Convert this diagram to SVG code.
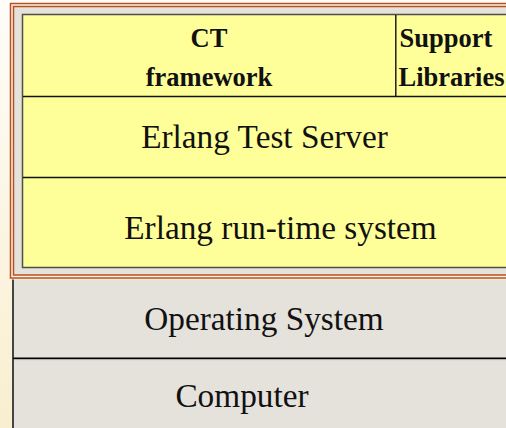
<svg xmlns="http://www.w3.org/2000/svg" width="506" height="428" viewBox="0 0 506 428">
  <defs>
    <linearGradient id="bg" x1="0" y1="0" x2="0" y2="1">
      <stop offset="0" stop-color="#fffdf9"/>
      <stop offset="1" stop-color="#f9eecf"/>
    </linearGradient>
  </defs>
  <style>
    .brown { stroke: #b9501f; stroke-width: 1.5; }
    .cellline { stroke: #111; stroke-width: 1.4; fill: none; }
    .bold { font-family: "Liberation Serif", "Times New Roman", serif; font-weight: bold; font-size: 26.5px; fill: #111; }
    .big { font-family: "Liberation Serif", "Times New Roman", serif; font-size: 33.3px; fill: #111; text-anchor: middle; }
  </style>

  <!-- page background -->
  <rect x="0" y="0" width="506" height="428" fill="url(#bg)"/>

  <!-- Erlang/OTP frame: double brown border with beige padding -->
  <g id="frame">
    <rect x="10.5" y="3.5" width="520" height="274.5" fill="#fbf5ea" class="brown"/>
    <rect x="13.5" y="6.5" width="510" height="268.5" fill="#e5e2dc" class="brown"/>
    <rect x="22.5" y="14.5" width="500" height="253" fill="#ffff99" stroke="#4d4d4d" stroke-width="1.5"/>
  </g>

  <!-- host layers below the frame -->
  <g id="host">
    <rect x="12" y="279.5" width="500" height="160" fill="#e5e2dc"/>
    <line x1="13" y1="279.5" x2="13" y2="428" stroke="#444" stroke-width="2"/>
  </g>

  <!-- cell separators -->
  <g id="separators">
    <line class="cellline" x1="395.8" y1="15" x2="395.8" y2="96.5"/>
    <line class="cellline" x1="23" y1="96.5" x2="506" y2="96.5"/>
    <line class="cellline" x1="23" y1="177.5" x2="506" y2="177.5"/>
    <line x1="13" y1="358.2" x2="506" y2="358.2" stroke="#000" stroke-width="1.5"/>
    <line x1="14" y1="359.6" x2="506" y2="359.6" stroke="#a9a7a2" stroke-width="1"/>
  </g>

  <g id="ct-framework">
    <text class="bold" x="209" y="47" text-anchor="middle">CT</text>
    <text class="bold" x="209" y="86" text-anchor="middle">framework</text>
  </g>

  <g id="support-libraries">
    <text class="bold" x="399.5" y="47">Support</text>
    <text class="bold" x="398.5" y="86">Libraries</text>
  </g>

  <g id="test-server">
    <text class="big" x="264.5" y="148">Erlang Test Server</text>
  </g>

  <g id="runtime-system">
    <text class="big" x="280.5" y="239">Erlang run-time system</text>
  </g>

  <g id="operating-system">
    <text class="big" x="264" y="330">Operating System</text>
  </g>

  <g id="computer">
    <text class="big" x="242" y="407">Computer</text>
  </g>
</svg>
